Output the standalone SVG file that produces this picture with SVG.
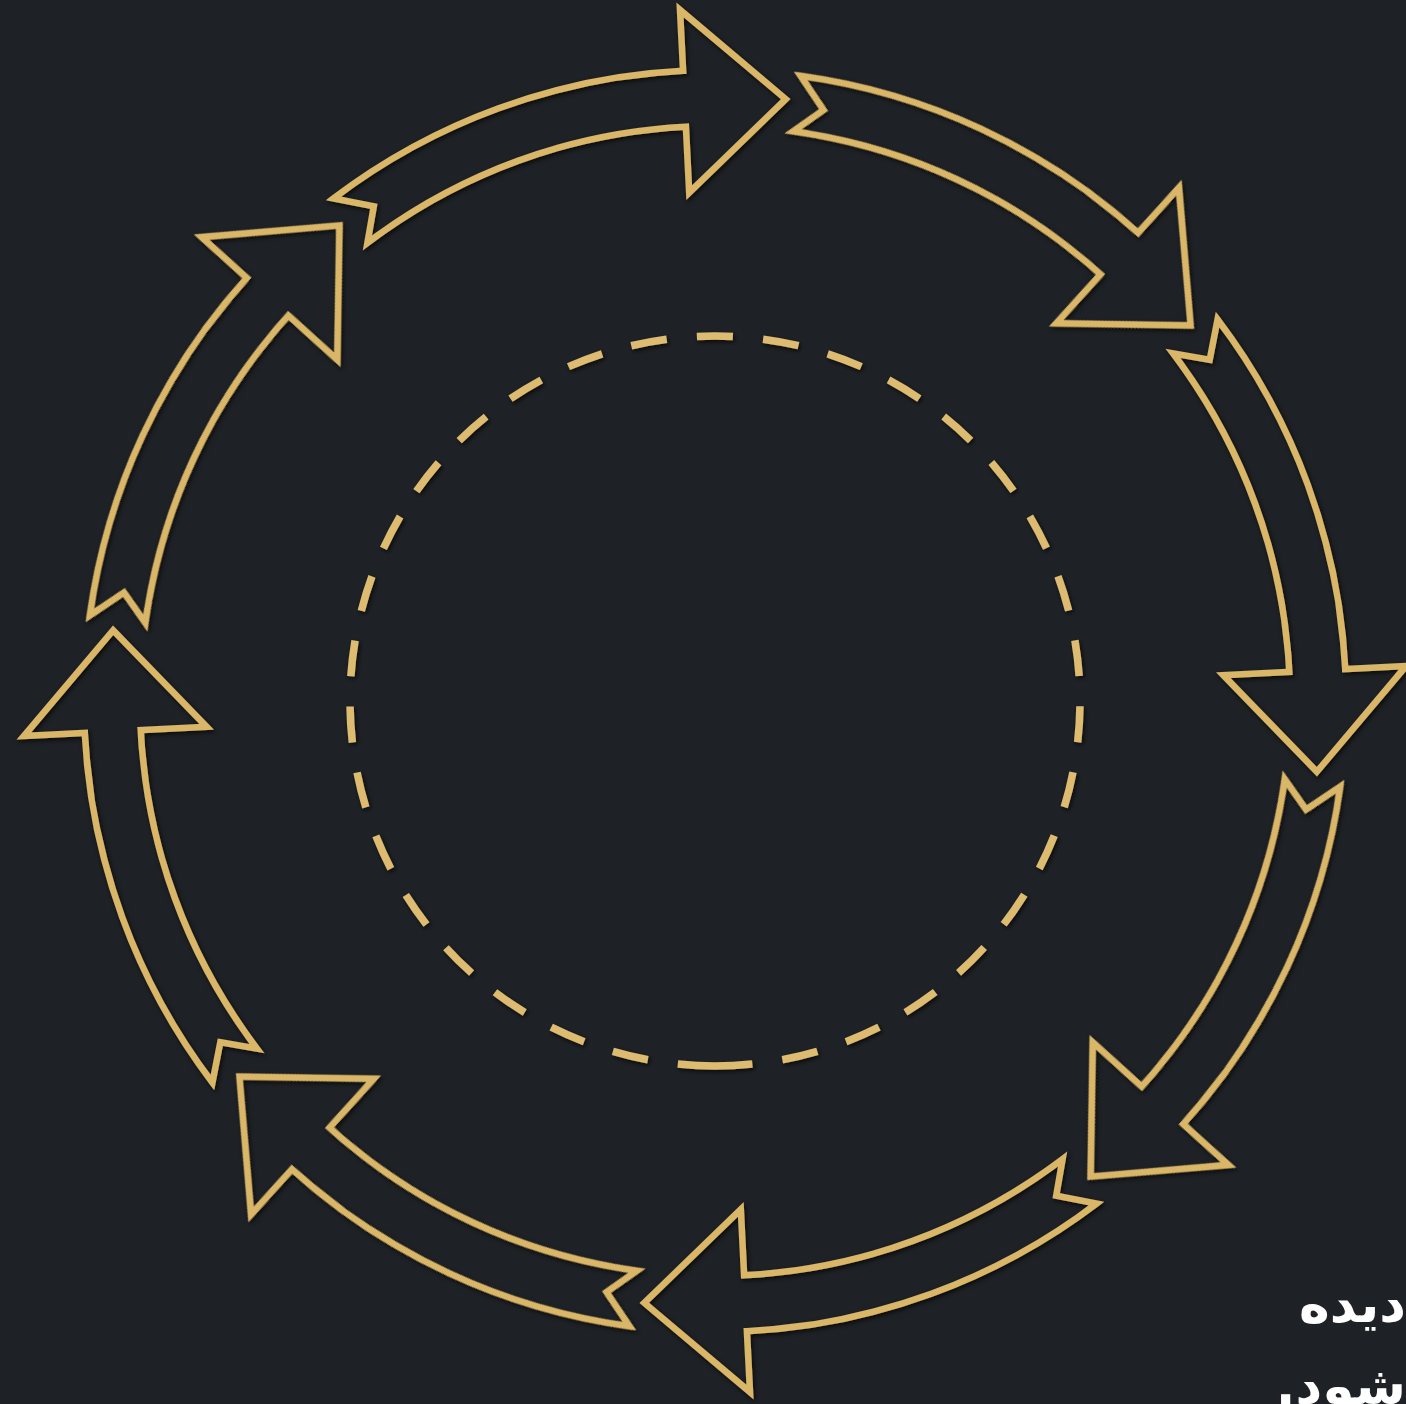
<svg xmlns="http://www.w3.org/2000/svg" xmlns:xlink="http://www.w3.org/1999/xlink" width="1406" height="1404" viewBox="0 0 1406 1404">
  <style>
    .arrow { fill: none; stroke: #dab768; stroke-width: 6.5; stroke-linejoin: miter; stroke-miterlimit: 10; }
    .dash { fill: none; stroke: #ddbc72; stroke-width: 7.5; }
    .txt { fill: #ffffff; font-family: "DejaVu Sans", "Noto Sans", sans-serif; font-weight: bold; font-size: 52px; direction: rtl; unicode-bidi: embed; }
  </style>
  <defs>
    <filter id="shadow" x="-10%" y="-10%" width="120%" height="120%">
      <feDropShadow dx="1.5" dy="2" stdDeviation="2" flood-color="#000000" flood-opacity="0.7"/>
    </filter>
    <path id="arrowShape" d="M333.5,198.4 A631,631 0 0,1 683.1,70.8 L680,9.9 L785.7,99.1 L689.2,192.7 L685.9,126.7 A575,575 0 0,0 367.4,243 L373.8,206.3 Z"/>
  </defs>
  <rect x="0" y="0" width="1406" height="1404" fill="#1e2125"/>

  <g id="dashed-circle" filter="url(#shadow)">
    <path class="dash" d="M677.8,1064.1 A365,365 0 1,1 752.2,1064.1" stroke-dasharray="36 30.3" stroke-dashoffset="36"/>
    <path class="dash" d="M752.2,1064.1 A365,365 0 0,1 677.8,1064.1"/>
  </g>

  <g id="arrows" filter="url(#shadow)">
    <g id="arrow-1"><use xlink:href="#arrowShape" class="arrow"/></g>
    <g id="arrow-2"><use xlink:href="#arrowShape" class="arrow" transform="rotate(45 715 701)"/></g>
    <g id="arrow-3"><use xlink:href="#arrowShape" class="arrow" transform="rotate(90 715 701)"/></g>
    <g id="arrow-4"><use xlink:href="#arrowShape" class="arrow" transform="rotate(135 715 701)"/></g>
    <g id="arrow-5"><use xlink:href="#arrowShape" class="arrow" transform="rotate(180 715 701)"/></g>
    <g id="arrow-6"><use xlink:href="#arrowShape" class="arrow" transform="rotate(225 715 701)"/></g>
    <g id="arrow-7"><use xlink:href="#arrowShape" class="arrow" transform="rotate(270 715 701)"/></g>
    <g id="arrow-8"><use xlink:href="#arrowShape" class="arrow" transform="rotate(315 715 701)"/></g>
  </g>

  <g id="caption">
    <text class="txt" x="1406" y="1322" direction="rtl" text-anchor="start">دیده</text>
    <text class="txt" x="1406" y="1404" direction="rtl" text-anchor="start">شود.</text>
  </g>
</svg>
